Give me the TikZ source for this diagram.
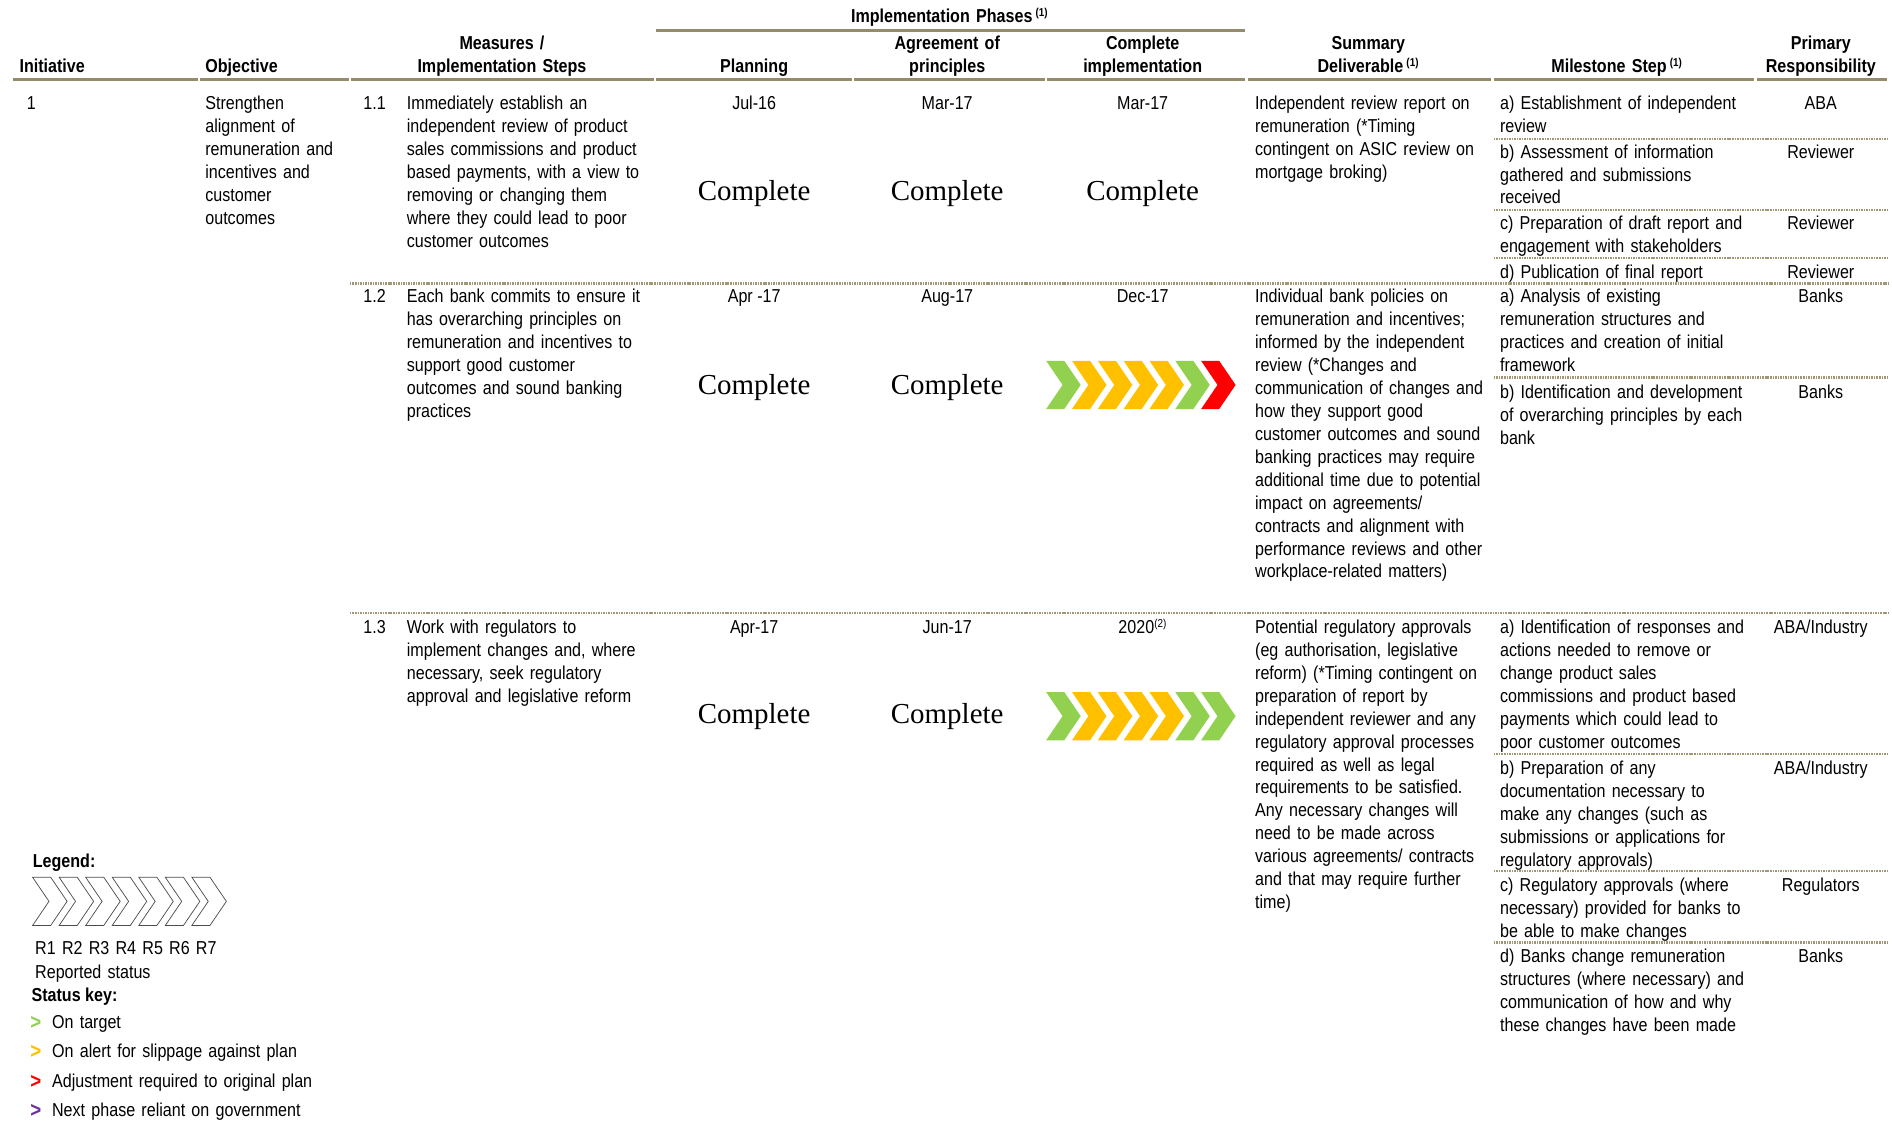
\documentclass[tikz,border=0pt]{standalone}
\usepackage{fontspec}
\setmainfont{Liberation Sans}[FakeStretch=0.86]
\newfontfamily\cmpfont{Liberation Serif}
\usetikzlibrary{positioning}
\definecolor{rulecol}{RGB}{149,139,107}
\definecolor{dotcol}{RGB}{160,151,118}
\definecolor{ontarget}{RGB}{146,208,80}
\definecolor{onalert}{RGB}{255,192,0}
\definecolor{adjust}{RGB}{255,0,0}
\definecolor{govt}{RGB}{112,48,160}
\tikzstyle{txt} = [anchor=base west, inner sep=0pt, text width=300pt, align=left]
\tikzstyle{mid} = [anchor=base, inner sep=0pt]
\tikzstyle{hdr} = [anchor=base, inner sep=0pt, text width=220pt, align=center, font=\bfseries]
\tikzstyle{done} = [anchor=base, inner sep=0pt, font=\cmpfont\fontsize{24}{28}\selectfont]
\tikzstyle{hrule} = [draw=rulecol, line width=2.5pt]
\tikzstyle{sep} = [draw=dotcol, line width=2pt, dash pattern=on 1.3pt off 0.8pt]
\tikzstyle{keymark} = [anchor=base west, inner sep=0pt, font=\bfseries]
% one chevron: left x, centre y, colour
\newcommand{\chev}[3]{\fill[#3] (#1,#2-20) -- ++(15,0) -- ++(13.6,20) -- ++(-13.6,20) -- ++(-15,0) -- ++(13.6,-20) -- cycle;}
\newcommand{\chevline}[2]{\draw[black!70, line width=0.6pt] (#1,#2-20) -- ++(15,0) -- ++(13.6,20) -- ++(-13.6,20) -- ++(-15,0) -- ++(13.6,-20) -- cycle;}
\newcommand{\sups}[1]{\textsuperscript{\fontsize{9.5}{10}\selectfont(#1)}}

\begin{document}
\fontsize{15.5}{19}\selectfont
\begin{tikzpicture}[x=1pt, y=-1pt]
\useasboundingbox (0,0) rectangle (1568,930);

% header
\node (phases) [hdr, text width=400pt] at (787,19) {Implementation Phases\,\sups{1}};
\draw [hrule] (544,25) -- (1032,25);
\node (hinit) [anchor=base west, inner sep=0pt, font=\bfseries] at (16,60) {Initiative};
\node (hobj) [anchor=base west, inner sep=0pt, font=\bfseries] at (170,60) {Objective};
\node (hmeas) [hdr] at (416,41) {Measures /\\Implementation Steps};
\node (hplan) [hdr] at (625,60) {Planning};
\node (hagree) [hdr] at (785,41) {Agreement of\\principles};
\node (hcompl) [hdr] at (947,41) {Complete\\implementation};
\node (hsum) [hdr] at (1134,41) {Summary\\Deliverable\,\sups{1}};
\node (hmile) [hdr] at (1340,60) {Milestone Step\,\sups{1}};
\node (hresp) [hdr] at (1509,41) {Primary\\Responsibility};
\foreach \a/\b in {10/165,165/290,290/543,543/707,707/867,867/1033,1033/1237,1237/1455,1455/1565}
  \draw [hrule] (\a+1,66) -- (\b-1,66);

% initiative 1
\node (init) [txt] at (22,91) {1};
\node (obj) [txt] at (170,91) {Strengthen\\alignment of\\remuneration and\\incentives and\\customer\\outcomes};

% measure 1.1
\node (n11) [txt] at (301,91) {1.1};
\node (m11) [txt] at (337,91) {Immediately establish an\\independent review of product\\sales commissions and product\\based payments, with a view to\\removing or changing them\\where they could lead to poor\\customer outcomes};
\node (p11) [mid] at (625,91) {Jul-16};
\node (a11) [mid] at (785,91) {Mar-17};
\node (c11) [mid] at (947,91) {Mar-17};
\node (dp11) [done] at (625,166) {Complete};
\node (da11) [done] at (785,166) {Complete};
\node (dc11) [done] at (947,166) {Complete};
\node (s11) [txt] at (1040,91) {Independent review report on\\remuneration (*Timing\\contingent on ASIC review on\\mortgage broking)};
\node (k11a) [txt] at (1243,91) {a) Establishment of independent\\review};
\node (k11b) [txt] at (1243,131) {b) Assessment of information\\gathered and submissions\\received};
\node (k11c) [txt] at (1243,190) {c) Preparation of draft report and\\engagement with stakeholders};
\node (k11d) [txt] at (1243,231) {d) Publication of final report};
\node (r11a) [mid] at (1509,91) {ABA};
\node (r11b) [mid] at (1509,131) {Reviewer};
\node (r11c) [mid] at (1509,190) {Reviewer};
\node (r11d) [mid] at (1509,231) {Reviewer};
\foreach \y in {115,174,214}
  \draw [sep] (1238,\y) -- (1565,\y);
\draw [sep] (290,235) -- (1565,235);

% measure 1.2
\node (n12) [txt] at (301,251) {1.2};
\node (m12) [txt] at (337,251) {Each bank commits to ensure it\\has overarching principles on\\remuneration and incentives to\\support good customer\\outcomes and sound banking\\practices};
\node (p12) [mid] at (625,251) {Apr -17};
\node (a12) [mid] at (785,251) {Aug-17};
\node (c12) [mid] at (947,251) {Dec-17};
\node (dp12) [done] at (625,327) {Complete};
\node (da12) [done] at (785,327) {Complete};
\foreach \c [count=\i from 0] in {ontarget,onalert,onalert,onalert,onalert,ontarget,adjust}
  {\chev{867+21.4*\i}{319}{\c}}
\node (s12) [txt] at (1040,251) {Individual bank policies on\\remuneration and incentives;\\informed by the independent\\review (*Changes and\\communication of changes and\\how they support good\\customer outcomes and sound\\banking practices may require\\additional time due to potential\\impact on agreements/\\contracts and alignment with\\performance reviews and other\\workplace-related matters)};
\node (k12a) [txt] at (1243,251) {a) Analysis of existing\\remuneration structures and\\practices and creation of initial\\framework};
\node (k12b) [txt] at (1243,330) {b) Identification and development\\of overarching principles by each\\bank};
\node (r12a) [mid] at (1509,251) {Banks};
\node (r12b) [mid] at (1509,330) {Banks};
\draw [sep] (1238,313) -- (1565,313);
\draw [sep] (290,508) -- (1565,508);

% measure 1.3
\node (n13) [txt] at (301,525) {1.3};
\node (m13) [txt] at (337,525) {Work with regulators to\\implement changes and, where\\necessary, seek regulatory\\approval and legislative reform};
\node (p13) [mid] at (625,525) {Apr-17};
\node (a13) [mid] at (785,525) {Jun-17};
\node (c13) [mid] at (947,525) {2020\sups{2}};
\node (dp13) [done] at (625,600) {Complete};
\node (da13) [done] at (785,600) {Complete};
\foreach \c [count=\i from 0] in {ontarget,onalert,onalert,onalert,onalert,ontarget,ontarget}
  {\chev{867+21.4*\i}{593.5}{\c}}
\node (s13) [txt] at (1040,525) {Potential regulatory approvals\\(eg authorisation, legislative\\reform) (*Timing contingent on\\preparation of report by\\independent reviewer and any\\regulatory approval processes\\required as well as legal\\requirements to be satisfied.\\Any necessary changes will\\need to be made across\\various agreements/ contracts\\and that may require further\\time)};
\node (k13a) [txt] at (1243,525) {a) Identification of responses and\\actions needed to remove or\\change product sales\\commissions and product based\\payments which could lead to\\poor customer outcomes};
\node (k13b) [txt] at (1243,642) {b) Preparation of any\\documentation necessary to\\make any changes (such as\\submissions or applications for\\regulatory approvals)};
\node (k13c) [txt] at (1243,739) {c) Regulatory approvals (where\\necessary) provided for banks to\\be able to make changes};
\node (k13d) [txt] at (1243,798) {d) Banks change remuneration\\structures (where necessary) and\\communication of how and why\\these changes have been made};
\node (r13a) [mid] at (1509,525) {ABA/Industry};
\node (r13b) [mid] at (1509,642) {ABA/Industry};
\node (r13c) [mid] at (1509,739) {Regulators};
\node (r13d) [mid] at (1509,798) {Banks};
\foreach \y in {625,722,781}
  \draw [sep] (1238,\y) -- (1565,\y);

% legend
\node (legend) [keymark] at (27,719) {Legend:};
\foreach \i in {0,...,6}
  {\chevline{27+22*\i}{747}}
\node (rlabels) [txt] at (29,791) {R1 R2 R3 R4 R5 R6 R7};
\node (reported) [txt] at (29,811) {Reported status};
\node (statuskey) [keymark] at (26,830) {Status key:};
\foreach \c/\t [count=\i from 0] in {ontarget/On target,onalert/On alert for slippage against plan,adjust/Adjustment required to original plan,govt/Next phase reliant on government} {
  \node (mark\i) [keymark, text=\c, font=\bfseries\fontsize{18}{19}\selectfont] at (25,853+24.5*\i) {>};
  \node (key\i) [txt] at (43,852+24.5*\i) {\t};
}
\end{tikzpicture}
\end{document}
